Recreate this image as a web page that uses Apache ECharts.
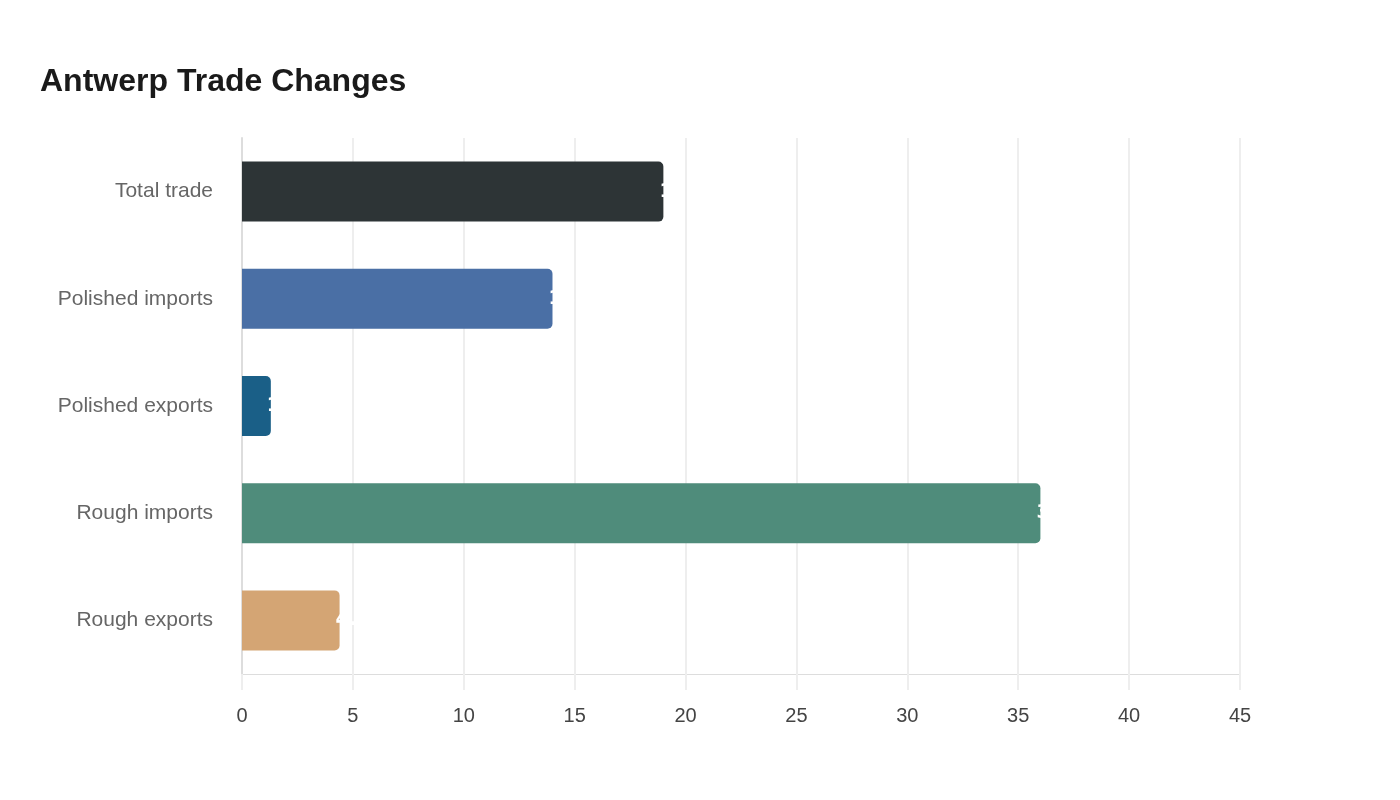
<!DOCTYPE html>
<html>
<head>
<meta charset="utf-8">
<title>Antwerp Trade Changes</title>
<script src="https://cdn.jsdelivr.net/npm/echarts@6/dist/echarts.min.js"></script>
<style>
  html, body { margin: 0; padding: 0; background: #fff; }
  #chart { width: 1400px; height: 800px; }
</style>
</head>
<body>
<div id="chart"></div>
<script>
// data
var categories = ['Total trade', 'Polished imports', 'Polished exports', 'Rough imports', 'Rough exports'];
var values = [19, 14, 1.3, 36, 4.4];
var barColors = ['#2d3436', '#4a6fa5', '#1a5f87', '#4f8c7b', '#d4a574'];
var xTicks = [0, 5, 10, 15, 20, 25, 30, 35, 40, 45];

var myChart = echarts.init(document.getElementById('chart'));
var option = {
    backgroundColor: '#fff',
    title: {
        text: 'Antwerp Trade Changes',
        left: 35,
        top: 61,
        textStyle: {
            fontFamily: 'Liberation Sans',
            fontSize: 32,
            fontWeight: 'bold',
            color: '#1a1a1a'
        }
    },
    grid: {
        left: 242,
        right: 160,
        top: 138,
        bottom: 126
    },
    xAxis: {
        type: 'value',
        min: xTicks[0],
        max: xTicks[xTicks.length - 1],
        interval: 5,
        axisLine: { show: true, lineStyle: { color: '#ddd', width: 1 } },
        axisTick: { show: true, length: 16, lineStyle: { color: '#eee', width: 2 } },
        splitLine: { show: true, lineStyle: { color: '#eee', width: 2 } },
        axisLabel: {
            margin: 32,
            fontFamily: 'Liberation Sans',
            fontSize: 20,
            color: '#444'
        }
    },
    yAxis: {
        type: 'category',
        inverse: true,
        data: categories,
        axisLine: { show: true, lineStyle: { color: '#ddd', width: 2 } },
        axisTick: { show: false },
        splitLine: { show: false },
        axisLabel: {
            margin: 29,
            padding: [3, 0, 0, 0],
            fontFamily: 'Liberation Sans',
            fontSize: 21,
            color: '#666'
        }
    },
    series: [
        {
            type: 'bar',
            barWidth: 60,
            data: values.map(function (v, i) {
                return { value: v, itemStyle: { color: barColors[i] } };
            }),
            itemStyle: { borderRadius: [0, 5, 5, 0] },
            label: {
                show: true,
                position: 'right',
                distance: -4,
                color: '#fff',
                fontFamily: 'DejaVu Sans',
                fontSize: 19,
                fontWeight: 'bold'
            }
        }
    ]
};
myChart.setOption(option);
</script>
</body>
</html>
